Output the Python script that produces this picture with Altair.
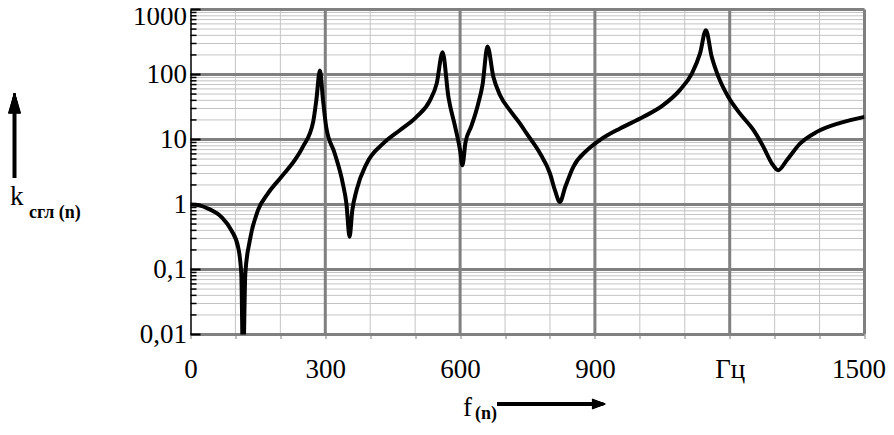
import altair as alt
import pandas as pd

# ---- data ----
freq = [0, 20, 39, 69, 91, 106, 113, 117, 122, 132, 150, 172, 202, 232, 250, 273, 280, 288,
        295, 302, 321, 339, 347, 354, 360, 370, 392, 429, 466, 503, 533, 548, 561, 574, 589,
        600, 605, 612, 625, 640, 650, 661, 674, 689, 711, 733, 748, 778, 800, 811, 822, 834,
        852, 882, 911, 956, 1008, 1052, 1089, 1116, 1134, 1147, 1160, 1175, 1197, 1223, 1253,
        1275, 1294, 1308, 1327, 1357, 1394, 1446, 1500]
k_sgl = [1.0, 0.97, 0.865, 0.64, 0.40, 0.22, 0.087, 0.003, 0.087, 0.28, 0.81, 1.47, 2.65, 4.8,
         7.7, 18.7, 40, 115, 40, 15.6, 6.1, 2.1, 1.03, 0.32, 0.8, 1.7, 4.27, 8.7, 13.9, 22.3,
         40, 73, 220, 45, 15.6, 6.8, 4.0, 9.0, 16, 35, 70, 270, 92, 48, 28, 17.7, 12.4, 6.1,
         3.0, 1.66, 1.09, 1.86, 3.8, 6.8, 9.8, 14.8, 22.3, 33.8, 57.5, 104, 211, 480, 187, 92,
         45, 25, 13.9, 7.7, 4.27, 3.37, 4.8, 8.7, 13.1, 18, 22.3]

x_ticks = [0, 300, 600, 900, 1200, 1500]
x_tick_labels = ["0", "300", "600", "900", "Гц", "1500"]
x_minor = [100, 200, 400, 500, 700, 800, 1000, 1100, 1300, 1400]
y_ticks = [0.01, 0.1, 1, 10, 100, 1000]
y_minor = [m * d for d in [0.01, 0.1, 1, 10, 100] for m in range(2, 10)]

y_title_main = "k"
y_title_sub = "сгл (n)"
x_title_main = "f"
x_title_sub = "(n)"

FONT = "Liberation Serif"
W, H = 674, 325

curve = pd.DataFrame({"f": freq, "k": k_sgl})
xs = alt.Scale(domain=[0, 1500], nice=False, zero=False)
ys = alt.Scale(type="log", domain=[0.01, 1000], nice=False)

expr_parts = "".join(f"datum.value == {v} ? '{t}' : " for v, t in zip(x_ticks, x_tick_labels))
x_label_expr = expr_parts + "''"

X_AX = alt.Axis(
    values=list(range(0, 1501, 100)), labelExpr=x_label_expr, title=None,
    labelFont=FONT, labelFontSize=27, labelColor="black", labelPadding=18,
    labelOffset={"condition": {"test": "datum.value == 1500", "value": -6}, "value": 0},
    tickColor="#808080", tickSize=4, tickWidth=1, domain=False, grid=False,
    labelOverlap=False, labelFlush=False, labelBound=False)
Y_AX = alt.Axis(
    values=y_ticks, labelExpr="replace(toString(datum.value), '.', ',')", title=None,
    labelFont=FONT, labelFontSize=27, labelColor="black", labelPadding=4,
    labelOffset={"condition": {"test": "datum.value == 1000", "value": 7}, "value": 0},
    ticks=False, domain=True, domainColor="black", domainWidth=1.5, grid=False,
    labelOverlap=False, labelFlush=False, zindex=1)

minor_v = alt.Chart(pd.DataFrame({"xm": x_minor})).mark_rule(color="#c4c4c4", strokeWidth=1).encode(
    x=alt.X("xm:Q", scale=xs, axis=X_AX))
minor_h = alt.Chart(pd.DataFrame({"ym": y_minor})).mark_rule(color="#c4c4c4", strokeWidth=1).encode(
    y=alt.Y("ym:Q", scale=ys, axis=Y_AX))
major_v = alt.Chart(pd.DataFrame({"xM": x_ticks[1:]})).mark_rule(color="#808080", strokeWidth=3).encode(
    x=alt.X("xM:Q", scale=xs, axis=X_AX))
major_h = alt.Chart(pd.DataFrame({"yM": y_ticks})).mark_rule(color="#808080", strokeWidth=3).encode(
    y=alt.Y("yM:Q", scale=ys, axis=Y_AX))
ticks_minor = alt.Chart(pd.DataFrame({"yt": y_minor})).mark_rule(color="black", strokeWidth=1.5).encode(
    y=alt.Y("yt:Q", scale=ys, axis=Y_AX), x=alt.value(0), x2=alt.value(6))
ticks_major = alt.Chart(pd.DataFrame({"yT": y_ticks})).mark_rule(color="black", strokeWidth=2).encode(
    y=alt.Y("yT:Q", scale=ys, axis=Y_AX), x=alt.value(0), x2=alt.value(10))

line = alt.Chart(curve).mark_line(color="black", strokeWidth=4, clip=True, strokeJoin="round",
                                  interpolate="monotone").encode(
    x=alt.X("f:Q", scale=xs, axis=X_AX),
    y=alt.Y("k:Q", scale=ys, axis=Y_AX),
)

def txt(s, x, y, size, weight="normal"):
    return alt.Chart(pd.DataFrame({"t": [s]})).mark_text(
        font=FONT, fontSize=size, fontWeight=weight, align="left", baseline="alphabetic",
        color="black").encode(text="t:N", x=alt.value(x), y=alt.value(y))

def rule(x1, y1, x2, y2, w=3.5):
    return alt.Chart(pd.DataFrame({"a": [0]})).mark_rule(color="black", strokeWidth=w).encode(
        x=alt.value(x1), y=alt.value(y1), x2=alt.value(x2), y2=alt.value(y2))

# arrow heads drawn as fans of thin rules from the tip to the base
def head_up(cx, tip_y, length, half_w):
    return [rule(cx, tip_y, cx + d * 0.5, tip_y + length, 1.3)
            for d in range(-2 * half_w, 2 * half_w + 1)]

def head_right(tip_x, cy, length, half_h):
    return [rule(tip_x, cy, tip_x - length, cy + d * 0.5, 1.3)
            for d in range(-2 * half_h, 2 * half_h + 1)]

AX = -176   # vertical arrow x (layer coords)
XB = 406.5  # x-title baseline (layer coords)
AY = XB - 12
annot = [
    txt(y_title_main, -180.5, 195.5, 27),
    txt(y_title_sub, -161.5, 208.5, 18, "bold"),
    rule(AX, 168.5, AX, 100, 4),
    *head_up(AX, 84, 20, 6),
    txt(x_title_main, 272.5, XB, 27),
    txt(x_title_sub, 284.5, XB + 3, 18, "bold"),
    rule(306.5, AY, 402, AY, 4),
    *head_right(414.5, AY, 13, 5),
]

chart = alt.layer(minor_v, minor_h, major_v, major_h, ticks_minor, ticks_major, line, *annot).properties(
    width=W, height=H,
    autosize=alt.AutoSizeParams(type="none"),
    padding={"left": 182.5, "top": 1.5, "right": 21.5, "bottom": 88.5},
).configure_view(stroke=None)

chart.save("out.html", embed_options={"renderer": "svg", "actions": False})
